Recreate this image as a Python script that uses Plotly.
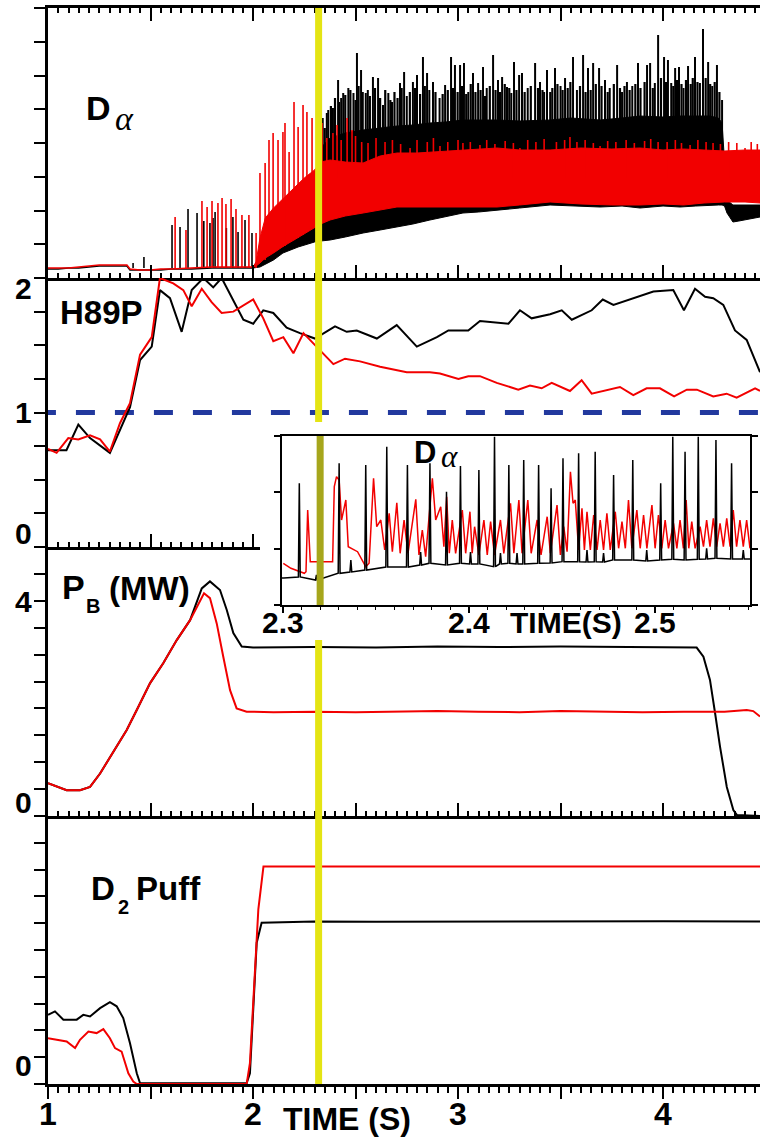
import plotly.graph_objects as go

# ===================== DATA =====================
# ---- Panel 1 : D-alpha, arbitrary units (axis 0..270) ----
da_early_t = [1.00, 1.05, 1.10, 1.15, 1.20, 1.25, 1.30, 1.35, 1.385, 1.40, 1.45, 1.50, 1.55, 1.60, 1.70, 1.80, 1.90, 1.95, 2.00]
da_early_blk = [9, 9, 10, 10, 11, 12, 12, 12, 12, 8, 8, 8, 8, 9, 9, 10, 10, 10, 10]
da_early_red = [10, 10, 10, 11, 12, 13, 13, 13, 13, 9, 8, 8, 9, 9, 10, 11, 11, 11, 11]
da_early_base = 10

da_elm_blk_t = [1.415, 1.468, 1.605, 1.644, 1.683, 1.727, 1.76, 1.790, 1.805, 1.815, 1.87, 1.902, 1.927, 1.961, 1.995]
da_elm_blk_v = [15, 21, 53, 51, 69, 65, 57, 55, 60, 66, 50, 61, 46, 58, 45]
da_elm_red_t = [1.620, 1.673, 1.751, 1.776, 1.800, 1.829, 1.849, 1.868, 1.893, 1.917, 1.946, 1.980, 2.015]
da_elm_red_v = [61, 48, 77, 71, 77, 75, 80, 74, 79, 69, 63, 63, 45]

da_blk_band_t = [2.00, 2.034, 2.10, 2.146, 2.22, 2.278, 2.30, 2.33, 2.376, 2.45, 2.537, 2.62, 2.702, 2.78, 2.863,
                 2.94, 3.024, 3.10, 3.19, 3.30, 3.449, 3.55, 3.693, 3.80, 3.888, 4.00, 4.083, 4.16, 4.229, 4.27,
                 4.288, 4.30, 4.312, 4.341, 4.37, 4.40, 4.44, 4.473]
da_blk_band_lo = [10, 11, 18, 25, 31, 35, 36, 37, 38, 41, 45, 48, 51, 54, 58, 61, 65, 66, 68, 70, 73, 72, 71, 72,
                  70, 72, 71, 72, 73, 73, 73, 72, 65, 56, 57, 58, 60, 61]
da_blk_band_hi = [10, 23, 35, 43, 52, 63, 75, 130, 140, 145, 148, 150, 152, 153, 155, 156, 158, 158, 158, 157, 158,
                  160, 158, 160, 162, 161, 162, 162, 162, 160, 155, 120, 78, 73, 73, 73, 73, 73]

# tall ELM spikes above the black band
da_blk_spk_t = [2.34, 2.36, 2.367, 2.39, 2.415, 2.43, 2.44, 2.465, 2.49, 2.507, 2.527, 2.55, 2.56, 2.585, 2.610,
                2.634, 2.66, 2.678, 2.717, 2.737, 2.75, 2.780, 2.800, 2.829, 2.849, 2.86, 2.878, 2.91, 2.937,
                2.966, 2.985, 3.010, 3.029, 3.05, 3.073, 3.098, 3.122, 3.14, 3.171, 3.195, 3.215, 3.239, 3.26,
                3.273, 3.298, 3.312, 3.34, 3.376, 3.400, 3.42, 3.434, 3.473, 3.50, 3.522, 3.561, 3.58, 3.610,
                3.634, 3.659, 3.688, 3.717, 3.74, 3.776, 3.80, 3.824, 3.85, 3.878, 3.922, 3.937, 3.96, 3.976,
                4.005, 4.024, 4.04, 4.059, 4.078, 4.10, 4.122, 4.156, 4.18, 4.195, 4.220, 4.24, 4.263, 4.288]
da_blk_spk_v = [160, 165, 168, 170, 198, 180, 185, 190, 185, 225, 208, 185, 188, 201, 200,
                173, 185, 176, 195, 206, 182, 196, 203, 221, 205, 188, 196, 180, 193,
                221, 213, 213, 215, 186, 205, 195, 211, 190, 223, 198, 201, 191, 185,
                216, 203, 205, 190, 215, 196, 186, 208, 210, 192, 200, 221, 188, 223,
                210, 215, 210, 198, 190, 213, 186, 196, 192, 215, 213, 215, 195, 243,
                221, 218, 195, 210, 211, 190, 212, 221, 195, 249, 216, 192, 213, 178]
# denser, lower ELM spikes forming the ragged top of the black band
da_blk_spk2_t = [2.35, 2.38, 2.40, 2.42, 2.45, 2.475, 2.50, 2.515, 2.535, 2.57, 2.595, 2.62, 2.645, 2.67, 2.69,
                 2.705, 2.725, 2.765, 2.79, 2.815, 2.838, 2.89, 2.925, 2.95, 2.975, 2.998, 3.02, 3.04, 3.062,
                 3.085, 3.11, 3.132, 3.155, 3.183, 3.205, 3.228, 3.25, 3.285, 3.325, 3.355, 3.39, 3.412, 3.45,
                 3.46, 3.485, 3.51, 3.535, 3.548, 3.595, 3.622, 3.647, 3.672, 3.70, 3.73, 3.76, 3.79, 3.812,
                 3.837, 3.865, 3.89, 3.91, 3.95, 3.99, 4.015, 4.05, 4.068, 4.09, 4.112, 4.135, 4.145, 4.168,
                 4.208, 4.23, 4.252, 4.275]
da_blk_spk2_v = [150, 172, 180, 176, 183, 188, 178, 192, 186, 182, 190, 180, 188, 178, 186,
                 180, 190, 186, 190, 184, 192, 186, 184, 188, 190, 186, 192, 184, 194,
                 186, 188, 182, 192, 188, 186, 194, 190, 188, 186, 192, 190, 188, 186,
                 190, 194, 188, 190, 196, 192, 186, 188, 194, 192, 186, 194, 190, 192,
                 188, 194, 190, 196, 190, 200, 196, 192, 198, 194, 198, 194, 200, 196,
                 200, 194, 196, 186]
da_blk_spk_base = 130

da_red_band_t = [2.00, 2.015, 2.034, 2.06, 2.10, 2.15, 2.20, 2.25, 2.30, 2.33, 2.376, 2.45, 2.537, 2.62, 2.702,
                 2.80, 2.94, 3.024, 3.19, 3.30, 3.449, 3.60, 3.75, 3.888, 4.00, 4.10, 4.20, 4.30, 4.40, 4.473]
da_red_band_lo = [11, 12, 15, 20, 25, 32, 38, 44, 50, 54, 58, 62, 65, 68, 71, 71, 71, 71, 71, 73, 76, 74, 73, 73,
                  74, 73, 75, 76, 76, 75]
da_red_band_hi = [11, 16, 40, 60, 70, 80, 90, 100, 108, 116, 118, 116, 115, 122, 125, 125, 127, 128, 130, 128,
                  128, 130, 129, 130, 128, 129, 128, 127, 128, 128]

da_red_tr_t = [2.034, 2.059, 2.078, 2.098, 2.122, 2.146, 2.156, 2.176, 2.200, 2.220, 2.244, 2.263, 2.288]
da_red_tr_lo = [15, 18, 22, 25, 28, 31, 32, 35, 38, 40, 43, 46, 49]
da_red_tr_hi = [105, 115, 138, 145, 138, 146, 155, 126, 176, 151, 173, 166, 160]

da_red_spk_t = [2.337, 2.36, 2.39, 2.410, 2.43, 2.459, 2.483, 2.50, 2.53, 2.561, 2.60, 2.644, 2.68, 2.72, 2.766,
                2.80, 2.85, 2.88, 2.912, 2.95, 3.00, 3.024, 3.06, 3.107, 3.14, 3.18, 3.23, 3.27, 3.302, 3.34,
                3.38, 3.42, 3.48, 3.52, 3.546, 3.58, 3.62, 3.66, 3.693, 3.73, 3.77, 3.82, 3.86, 3.91, 3.94,
                3.976, 4.02, 4.06, 4.09, 4.132, 4.17, 4.21, 4.244, 4.28, 4.32, 4.36, 4.400, 4.43, 4.46]
da_red_spk_v = [155, 140, 145, 153, 138, 160, 148, 142, 136, 135, 140, 136, 138, 134, 130,
                138, 136, 140, 132, 136, 138, 135, 136, 133, 138, 134, 137, 135, 130, 138,
                136, 139, 136, 138, 141, 136, 138, 135, 132, 137, 136, 138, 135, 137, 139,
                136, 136, 138, 135, 133, 138, 136, 135, 134, 136, 135, 130, 136, 134]
da_red_spk_base = 100

# ---- Panel 2 : H89P ----
h89_blk_t = [1.00, 1.09, 1.148, 1.205, 1.302, 1.40, 1.449, 1.506, 1.546, 1.595, 1.652, 1.701, 1.758, 1.806, 1.847,
             1.953, 2.001, 2.05, 2.099, 2.164, 2.229, 2.302, 2.40, 2.457, 2.506, 2.604, 2.701, 2.799, 2.897, 2.953,
             3.05, 3.107, 3.246, 3.302, 3.359, 3.449, 3.506, 3.555, 3.652, 3.706, 3.758, 3.855, 3.953, 4.05, 4.102,
             4.156, 4.205, 4.245, 4.294, 4.351, 4.408, 4.473]
h89_blk_v = [0.72, 0.72, 0.91, 0.81, 0.70, 1.04, 1.39, 1.49, 1.91, 1.85, 1.60, 1.91, 2.00, 1.93, 2.00,
             1.69, 1.66, 1.76, 1.74, 1.63, 1.59, 1.55, 1.64, 1.60, 1.61, 1.55, 1.65, 1.49, 1.56, 1.61,
             1.61, 1.68, 1.66, 1.76, 1.70, 1.73, 1.76, 1.69, 1.76, 1.84, 1.80, 1.85, 1.90, 1.91, 1.76,
             1.92, 1.86, 1.85, 1.80, 1.61, 1.54, 1.30]
h89_red_t = [1.00, 1.042, 1.099, 1.148, 1.205, 1.254, 1.302, 1.351, 1.40, 1.449, 1.506, 1.546, 1.611, 1.66, 1.701,
             1.75, 1.798, 1.847, 1.904, 2.001, 2.05, 2.099, 2.148, 2.197, 2.246, 2.311, 2.392, 2.449, 2.522, 2.62,
             2.75, 2.863, 2.912, 3.002, 3.05, 3.107, 3.189, 3.294, 3.351, 3.408, 3.457, 3.546, 3.603, 3.652, 3.79,
             3.855, 3.92, 3.985, 4.054, 4.116, 4.165, 4.245, 4.31, 4.359, 4.449, 4.473]
h89_red_v = [0.73, 0.70, 0.81, 0.80, 0.83, 0.80, 0.71, 0.92, 1.07, 1.43, 1.56, 2.00, 1.96, 1.91, 1.79,
             1.92, 1.82, 1.74, 1.75, 1.84, 1.70, 1.53, 1.56, 1.44, 1.59, 1.49, 1.36, 1.40, 1.38, 1.34,
             1.30, 1.30, 1.29, 1.25, 1.27, 1.27, 1.22, 1.17, 1.20, 1.18, 1.22, 1.16, 1.24, 1.14, 1.19,
             1.13, 1.18, 1.18, 1.12, 1.17, 1.17, 1.12, 1.14, 1.11, 1.18, 1.16]
h89_ref_level = 1.0

# ---- Panel 3 : P_B (MW) ----
pb_blk_t = [1.00, 1.059, 1.091, 1.156, 1.205, 1.254, 1.319, 1.384, 1.433, 1.498, 1.562, 1.628, 1.693, 1.750, 1.790,
            1.839, 1.872, 1.904, 1.945, 2.00, 2.30, 2.60, 2.90, 3.20, 3.50, 3.80, 4.00, 4.164, 4.197, 4.229, 4.254,
            4.278, 4.311, 4.343, 4.36, 4.473]
pb_blk_v = [0.61, 0.53, 0.48, 0.48, 0.54, 0.79, 1.20, 1.60, 1.97, 2.47, 2.84, 3.27, 3.64, 4.23, 4.36,
            4.20, 3.83, 3.40, 3.15, 3.13, 3.14, 3.13, 3.15, 3.14, 3.15, 3.14, 3.13, 3.13, 2.96, 2.53, 1.91,
            1.29, 0.54, 0.11, 0.02, 0.0]
pb_red_t = [1.00, 1.059, 1.091, 1.156, 1.205, 1.254, 1.319, 1.384, 1.433, 1.498, 1.562, 1.628, 1.693, 1.761, 1.790,
            1.823, 1.855, 1.888, 1.920, 1.969, 2.10, 2.30, 2.50, 2.70, 2.90, 3.10, 3.30, 3.50, 3.70, 3.90, 4.10,
            4.30, 4.408, 4.44, 4.473]
pb_red_v = [0.61, 0.53, 0.48, 0.48, 0.54, 0.79, 1.20, 1.60, 1.97, 2.47, 2.84, 3.27, 3.64, 4.14, 4.05,
            3.58, 2.96, 2.34, 2.00, 1.94, 1.93, 1.94, 1.93, 1.94, 1.95, 1.94, 1.93, 1.95, 1.94, 1.93, 1.94,
            1.94, 1.97, 1.95, 1.85]

# ---- Panel 4 : D2 puff (arbitrary units, axis 0..10) ----
puff_blk_t = [1.00, 1.034, 1.075, 1.140, 1.172, 1.205, 1.254, 1.302, 1.335, 1.367, 1.400, 1.433, 1.449, 1.60, 1.80,
              1.969, 1.985, 2.002, 2.018, 2.042, 2.30, 2.60, 3.00, 3.50, 4.00, 4.473]
puff_blk_v = [2.58, 2.71, 2.40, 2.40, 2.58, 2.52, 2.83, 3.05, 2.90, 2.46, 1.52, 0.40, 0.03, 0.03, 0.03,
              0.03, 0.40, 2.77, 5.27, 6.02, 6.06, 6.05, 6.06, 6.06, 6.07, 6.06]
puff_red_t = [1.00, 1.050, 1.091, 1.132, 1.156, 1.197, 1.237, 1.270, 1.302, 1.327, 1.359, 1.392, 1.416, 1.433, 1.60,
              1.80, 1.969, 1.985, 2.010, 2.026, 2.051, 2.50, 3.00, 3.50, 4.00, 4.473]
puff_red_v = [1.71, 1.65, 1.59, 1.34, 1.65, 1.96, 1.90, 2.05, 1.71, 1.34, 1.21, 0.40, 0.09, 0.0, 0.0,
              0.0, 0.0, 0.78, 4.02, 6.52, 8.12, 8.12, 8.12, 8.12, 8.12, 8.12]

# ---- Inset : D-alpha zoom 2.30 - 2.55 s (arbitrary units, axis 0..169) ----
ins_blk_t = [2.3000, 2.3088, 2.3180, 2.3302, 2.3365, 2.3445, 2.3558, 2.3669, 2.3740, 2.3790, 2.3879, 2.3954,
             2.4008, 2.4053, 2.4137, 2.4169, 2.4214, 2.4258, 2.4294, 2.4374, 2.4441, 2.4505, 2.4589, 2.4634,
             2.4678, 2.4723, 2.4777, 2.4880, 2.4955, 2.5030, 2.5095, 2.5161, 2.5232, 2.5277, 2.5327, 2.5411,
             2.5474, 2.5510]
ins_blk_pk = [27, 121.7, 30, 141.7, 45, 140, 158.3, 140, 53, 141.7, 113.3, 139,
              53, 135, 168.3, 52, 140, 52, 145, 140, 116.7, 146.7, 151.7, 55,
              153.3, 52, 130, 145, 55, 121.7, 168.3, 153.3, 168.3, 56.7, 165, 141.7,
              55, 46]
ins_blk_base = [27, 28, 25, 31.7, 33, 35, 38, 38, 40, 41.7, 40, 41.7,
                41, 41, 38.3, 41, 41.7, 41, 41, 41.7, 42, 43.3, 43.3, 43,
                43.3, 43, 45, 45, 44, 45, 45.7, 45, 45.7, 46, 46.7, 46,
                46, 46]

ins_red_t = [2.3002, 2.3043, 2.3115, 2.3124, 2.3133, 2.3147, 2.3204, 2.3267, 2.3276, 2.3288, 2.3302, 2.3315,
             2.3338, 2.3351, 2.3401, 2.3445, 2.3463, 2.3487, 2.3504, 2.3526, 2.3547, 2.3571, 2.3588, 2.3612,
             2.3630, 2.3651, 2.3672, 2.3714, 2.3731, 2.3749, 2.3767, 2.3803, 2.3821, 2.3848, 2.3865, 2.3880,
             2.3894, 2.3910, 2.3928, 2.3964, 2.3982, 2.4005, 2.4017, 2.4030, 2.4053, 2.4080, 2.4098, 2.4116,
             2.4137, 2.4169, 2.4187, 2.4223, 2.4241, 2.4268, 2.4285, 2.4316, 2.4334, 2.4366, 2.4387, 2.4420,
             2.4437, 2.4473, 2.4491, 2.4509, 2.4527, 2.4545, 2.4559, 2.4571, 2.4589, 2.4607, 2.4620, 2.4634,
             2.4652, 2.4670, 2.4688, 2.4705, 2.4723, 2.4741, 2.4759, 2.4786, 2.4804, 2.4822, 2.4840, 2.4857,
             2.4875, 2.4902, 2.4920, 2.4938, 2.4956, 2.4983, 2.5000, 2.5018, 2.5036, 2.5054, 2.5072, 2.5099,
             2.5117, 2.5134, 2.5152, 2.5167, 2.5181, 2.5197, 2.5215, 2.5242, 2.5260, 2.5277, 2.5295, 2.5313,
             2.5331, 2.5349, 2.5367, 2.5385, 2.5403, 2.5420, 2.5438, 2.5456, 2.5474, 2.5492, 2.5510]
ins_red_v = [41.7, 36.7, 31.7, 33.3, 95.0, 43.3, 43.3, 43.3, 118.3, 128.3, 125.0, 85.0,
             105.0, 58.3, 53.3, 38.3, 41.7, 126.7, 78.3, 85.0, 55.0, 91.7, 53.3, 102.3,
             51.7, 85.0, 51.7, 105.7, 50.0, 75.0, 48.3, 126.7, 85.0, 98.3, 58.3, 108.3,
             51.7, 85.0, 51.7, 95.0, 51.7, 93.3, 51.7, 78.3, 50.0, 85.0, 50.0, 83.3,
             50.0, 85.0, 51.7, 101.7, 51.7, 105.0, 51.7, 105.0, 51.7, 85.0, 50.0, 88.3,
             51.7, 100.0, 50.0, 78.3, 53.3, 133.3, 101.7, 105.0, 55.0, 96.7, 55.0, 93.3,
             55.0, 90.0, 55.0, 85.0, 55.0, 91.7, 55.0, 93.3, 56.7, 83.3, 56.7, 105.0,
             56.7, 95.0, 56.7, 90.0, 56.7, 100.0, 56.7, 90.0, 56.7, 85.0, 56.7, 81.7,
             56.7, 85.0, 56.7, 105.0, 56.7, 83.3, 56.7, 78.3, 58.3, 85.0, 58.3, 86.7,
             58.3, 81.7, 58.3, 86.7, 58.3, 95.0, 58.3, 85.0, 58.3, 85.0, 56.7]

marker_time = 2.32          # time marked by the vertical yellow line

main_tick_vals = [1.0, 1.5, 2.0, 2.5, 3.0, 3.5, 4.0]
main_label_vals = [1, 2, 3, 4]
inset_tick_vals = [2.3, 2.4, 2.5]

# ===================== LAYOUT HELPERS =====================
FIG_W, FIG_H = 760, 1141
ML, MR, MT, MB = 48, 0, 8, 57
PW = FIG_W - ML - MR
PH = FIG_H - MT - MB


def px_x(px):
    return (px - ML) / PW


def px_y(py):
    return (FIG_H - MB - py) / PH


T_RANGE = [1.0, 4.473]
bounds = [1.0, px_y(278), px_y(547), px_y(816), 0.0]
# panel-2 bottom axis is only drawn left of the inset
P2_AXIS_END = px_x(260)
P2_AXIS_RANGE = [T_RANGE[0], T_RANGE[0] + (T_RANGE[1] - T_RANGE[0]) * P2_AXIS_END]

BLK = '#000000'
RED = '#f20000'
YEL = '#e4e414'
OLIVE = '#a6a61c'
BLUE = '#22399e'
FONT = 'Liberation Sans, Arial, Helvetica, sans-serif'
SERIF = 'Liberation Serif, Times New Roman, serif'


def seg_path(ts, lo, hi):
    xs, ys = [], []
    for t, a, h in zip(ts, lo, hi):
        xs += [t, t, None]
        ys += [a, h, None]
    return xs, ys


def band_path(ts, lo, hi):
    return list(ts) + list(ts)[::-1], list(lo) + list(hi)[::-1]


def spike_path(ts, pk, base, hw):
    xs, ys = [], []
    for t, p, b in zip(ts, pk, base):
        xs += [t - hw, t, t + hw]
        ys += [b, p, b]
    return xs, ys


fig = go.Figure()


def line(x, y, color, width, xa='x', ya='y', **kw):
    fig.add_trace(go.Scatter(x=x, y=y, mode='lines', line=dict(color=color, width=width),
                             xaxis=xa, yaxis=ya, hoverinfo='skip', showlegend=False, **kw))


# ---- Panel 1 ----
bx, by = band_path(da_blk_band_t, da_blk_band_lo, da_blk_band_hi)
line(bx, by, BLK, 1, fill='toself', fillcolor=BLK)
sx, sy = seg_path(da_blk_spk2_t, [da_blk_spk_base] * len(da_blk_spk2_t), da_blk_spk2_v)
line(sx, sy, BLK, 2.2)
sx, sy = seg_path(da_blk_spk_t, [da_blk_spk_base] * len(da_blk_spk_t), da_blk_spk_v)
line(sx, sy, BLK, 2.0)
line(da_early_t, da_early_blk, BLK, 1.6)
sx, sy = seg_path(da_elm_blk_t, [da_early_base] * len(da_elm_blk_t), da_elm_blk_v)
line(sx, sy, BLK, 1.6)

rx, ry = band_path(da_red_band_t, da_red_band_lo, da_red_band_hi)
line(rx, ry, RED, 1, fill='toself', fillcolor=RED)
sx, sy = seg_path(da_red_tr_t, da_red_tr_lo, da_red_tr_hi)
line(sx, sy, RED, 1.6)
sx, sy = seg_path(da_red_spk_t, [da_red_spk_base] * len(da_red_spk_t), da_red_spk_v)
line(sx, sy, RED, 1.6)
line(da_early_t, da_early_red, RED, 1.6)
sx, sy = seg_path(da_elm_red_t, [da_early_base] * len(da_elm_red_t), da_elm_red_v)
line(sx, sy, RED, 1.6)

# ---- Panel 2 ----
fig.add_trace(go.Scatter(x=[0.946, T_RANGE[1]], y=[h89_ref_level, h89_ref_level],
                         mode='lines', line=dict(color=BLUE, width=5, dash='19px,20px'),
                         xaxis='x2', yaxis='y2', hoverinfo='skip', showlegend=False))
line(h89_blk_t, h89_blk_v, BLK, 2, 'x2', 'y2')
line(h89_red_t, h89_red_v, RED, 2, 'x2', 'y2')
# invisible point that creates the short bottom axis of panel 2
fig.add_trace(go.Scatter(x=[1.5], y=[0.5], mode='markers', marker=dict(opacity=0),
                         xaxis='x7', yaxis='y2', hoverinfo='skip', showlegend=False))

# ---- Panel 3 ----
line(pb_blk_t, pb_blk_v, BLK, 2, 'x3', 'y3')
line(pb_red_t, pb_red_v, RED, 2, 'x3', 'y3')

# ---- Panel 4 ----
line(puff_blk_t, puff_blk_v, BLK, 2, 'x4', 'y4')
line(puff_red_t, puff_red_v, RED, 2, 'x4', 'y4')

# ---- Inset ----
line(ins_red_t, ins_red_v, RED, 1.5, 'x6', 'y6')
ix, iy = spike_path(ins_blk_t, ins_blk_pk, ins_blk_base, 0.0005)
line(ix, iy, BLK, 1.5, 'x6', 'y6')


# ===================== AXES =====================
def main_x(anchor, ticks, mirror=False, ticklen=13, minorlen=5, domain=(0, 1), rng=None, showline=True):
    return dict(domain=list(domain), anchor=anchor, range=rng or T_RANGE, showline=showline, linewidth=3,
                linecolor='black', mirror=mirror, ticks=ticks, ticklen=ticklen, tickwidth=2,
                tickcolor='black', tickmode='array', tickvals=main_tick_vals, showticklabels=False,
                minor=dict(ticks=ticks, ticklen=minorlen, tickwidth=1.5, tickcolor='black',
                           tickmode='linear', tick0=1.0, dtick=0.05),
                showgrid=False, zeroline=False, fixedrange=True)


def main_y(domain, anchor, rng, dtick):
    return dict(domain=domain, anchor=anchor, range=rng, showline=True, linewidth=3, linecolor='black',
                ticks='outside', ticklen=11, tickwidth=2, tickcolor='black', tickmode='linear', tick0=0,
                dtick=dtick, showticklabels=False, showgrid=False, zeroline=False, fixedrange=True)


x2_axis = main_x('y2', '', showline=False)
x2_axis['minor'] = dict(ticks='')
layout_axes = dict(
    xaxis=main_x('y', 'inside', mirror='ticks'),
    xaxis2=x2_axis,
    xaxis7=main_x('y2', 'inside', domain=(0, P2_AXIS_END), rng=P2_AXIS_RANGE),
    xaxis3=main_x('y3', 'inside'),
    xaxis4=main_x('y4', 'outside', ticklen=12, minorlen=6),
    yaxis=main_y([bounds[1], bounds[0]], 'x', [0, 270], 33.75),
    yaxis2=main_y([bounds[2], bounds[1]], 'x2', [0, 2], 0.25),
    yaxis3=main_y([bounds[3], bounds[2]], 'x3', [0, 5], 0.5),
    yaxis4=main_y([bounds[4], bounds[3]], 'x4', [0, 10], 1),
    xaxis6=dict(domain=[px_x(282), px_x(750)], anchor='y6', range=[2.2995, 2.551], showline=True,
                linewidth=1.5, linecolor='black', mirror=True, ticks='outside', ticklen=6, tickwidth=1.5,
                tickcolor='black', tickmode='array', tickvals=inset_tick_vals, showticklabels=False,
                minor=dict(ticks='outside', ticklen=3, tickwidth=1, tickcolor='black',
                           tickmode='linear', tick0=2.3, dtick=0.01),
                showgrid=False, zeroline=False, fixedrange=True),
    yaxis6=dict(domain=[px_y(605), px_y(436)], anchor='x6', range=[0, 169], showline=True, linewidth=1.5,
                linecolor='black', mirror='ticks', ticks='outside', ticklen=6, tickwidth=1.5,
                tickcolor='black', tickmode='array', tickvals=[0, 56.3, 112.7, 169],
                showticklabels=False, showgrid=False, zeroline=False, fixedrange=True),
)

# ===================== TEXT =====================
ann = []


def txt(text, x, y, size, family=FONT, xanchor='center', xref='paper', yref='paper', yshift=0):
    ann.append(dict(text=text, x=x, y=y, xref=xref, yref=yref, xanchor=xanchor, yanchor='middle',
                    showarrow=False, yshift=yshift, borderpad=0,
                    font=dict(family=family, size=size, color='black')))


# y tick labels (offset from tick positions as in the original)
ylab_x = px_x(23)
txt('<b>2</b>', ylab_x, 2, 30, yref='y2', yshift=-10)
txt('<b>1</b>', ylab_x, 1, 30, yref='y2')
txt('<b>0</b>', ylab_x, 0, 30, yref='y2', yshift=14)
txt('<b>4</b>', ylab_x, 4, 30, yref='y3', yshift=-1)
txt('<b>0</b>', ylab_x, 0, 30, yref='y3', yshift=14)
txt('<b>0</b>', ylab_x, 0, 30, yref='y4', yshift=19)

# time-axis tick labels
for v in main_label_vals:
    txt('<b>%d</b>' % v, v, px_y(1114), 32, xref='x4')
for v in inset_tick_vals:
    txt('<b>%.1f</b>' % v, v, px_y(622), 30, xref='x6')

# panel titles (subscripts drawn as smaller, lowered text)
txt('<b>D</b>', px_x(98), px_y(108), 34)
txt('<i>α</i>', px_x(124), px_y(118), 34, family=SERIF)
txt('<b>H89P</b>', px_x(101), px_y(312), 33)
txt('<b>P</b>', px_x(61), px_y(587), 34, xanchor='left')
txt('<b>B</b>', px_x(85), px_y(606), 20, xanchor='left')
txt('<b>(MW)</b>', px_x(108), px_y(588), 33, xanchor='left')
txt('<b>D</b>', px_x(90), px_y(889), 33, xanchor='left')
txt('<b>2</b>', px_x(117), px_y(907), 20, xanchor='left')
txt('<b>Puff</b>', px_x(135), px_y(889), 33, xanchor='left')
# inset
txt('<b>D</b>', px_x(425), px_y(452), 31)
txt('<i>α</i>', px_x(449), px_y(456), 31, family=SERIF)
txt('<b>TIME(S)</b>', px_x(566), px_y(622), 30)
# main axis title
txt('<b>TIME (S)</b>', px_x(347), px_y(1119), 32)

shapes = [
    dict(type='line', xref='x', yref='paper', x0=marker_time, x1=marker_time, y0=px_y(422), y1=1.0,
         line=dict(color=YEL, width=7), layer='above'),
    dict(type='line', xref='x', yref='paper', x0=marker_time, x1=marker_time, y0=0.0, y1=px_y(640),
         line=dict(color=YEL, width=7), layer='above'),
    dict(type='line', xref='x6', yref='y6', x0=marker_time, x1=marker_time, y0=0, y1=169,
         line=dict(color=OLIVE, width=7), layer='above'),
]

fig.update_layout(width=FIG_W, height=FIG_H, margin=dict(l=ML, r=MR, t=MT, b=MB, pad=0),
                  paper_bgcolor='white', plot_bgcolor='rgba(0,0,0,0)', showlegend=False, hovermode=False,
                  annotations=ann, shapes=shapes, **layout_axes)

fig.write_html("out.html")
